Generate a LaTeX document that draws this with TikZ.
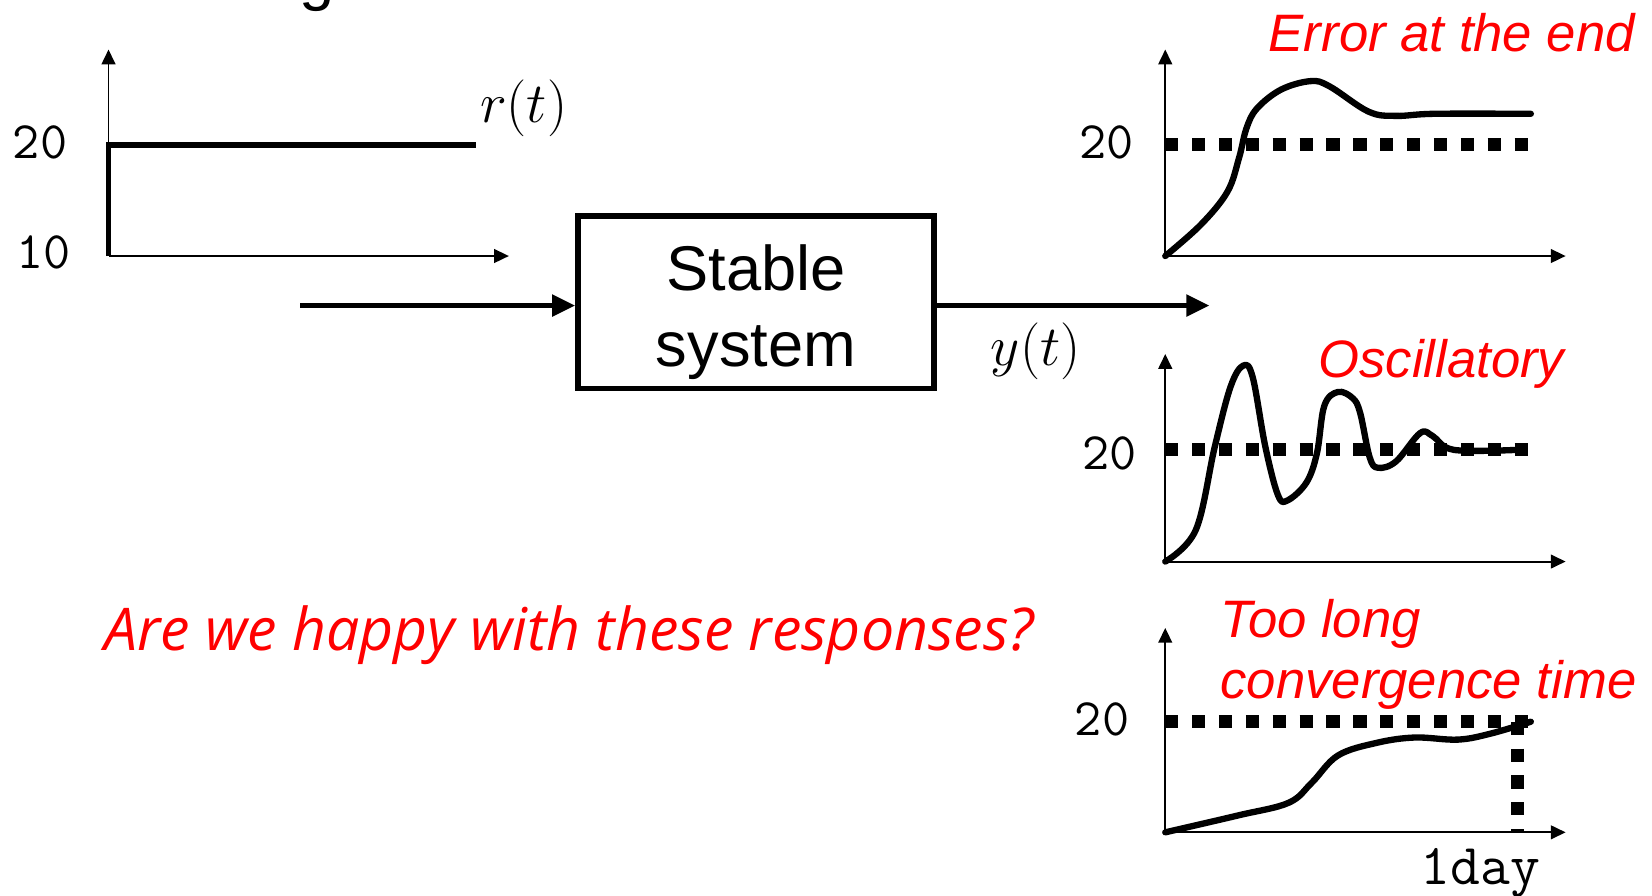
\RequirePackage{fix-cm}
\documentclass[tikz,border=0pt]{standalone}
\usepackage{fontspec}
\newfontfamily\arialfont{Liberation Sans}
\newfontfamily\osansfont{Open Sans}
\usetikzlibrary{arrows.meta}

\tikzset{
  axis/.style={-{Triangle[length=14pt,width=13pt]}, line width=1.8pt},
  bigarrow/.style={-{Triangle[length=22pt,width=20pt]}, line width=5pt},
  resp/.style={line width=6pt, line cap=round, line join=round},
  refline/.style={line width=12.5pt, dash pattern=on 12.5pt off 13pt},
  redlabel/.style={text=red, font=\arialfont\itshape\fontsize{50}{58}\selectfont},
  ticklabel/.style={font=\ttfamily\fontsize{50}{50}\selectfont},
  mathlabel/.style={font=\fontsize{54}{54}\selectfont},
}

\begin{document}
\begin{tikzpicture}[x=1pt, y=-1pt]
  \useasboundingbox (0,0) rectangle (1568,850);
  % cut title
  \node[anchor=base, font=\arialfont\fontsize{60}{60}\selectfont] (title) at (301,-1) {g};
  % input r(t)
  \draw[axis] (103,243) -- (483,243);
  \draw[axis] (103,243) -- (103,47);
  \draw[line width=5.5pt] (103,243) -- (103,138) -- (452,138);
  \node[ticklabel] (r20) at (38,135) {20};
  \node[ticklabel] (r10) at (41,240) {10};
  \node[mathlabel] (rlab) at (497,103) {$r(t)$};
  % system
  \node[draw, line width=5pt, minimum width=338, minimum height=164, align=center,
        font=\arialfont\fontsize{60}{72}\selectfont] (sys) at (717.5,287)
        {\rule{0pt}{62pt}Stable\\system};
  \coordinate (in) at (285,290);
  \coordinate (out) at (1148,290);
  \draw[bigarrow] (in) -- (in -| sys.west);
  \draw[bigarrow] (out -| sys.east) -- (out);
  \node[mathlabel] (ylab) at (983,333) {$y(t)$};
  % response 1
  \draw[axis] (1106,243) -- (1486,243);
  \draw[axis] (1106,243) -- (1106,47);
  \draw[refline] (1106,137) -- (1450,137);
  \draw[resp] plot[smooth, tension=0.6] coordinates {(1106,243) (1140,213) (1165,182)
    (1176,150) (1183,122) (1193,103) (1216,85) (1244,77) (1262,82) (1299,106) (1325,110)
    (1362,108) (1453,108)};
  \node[ticklabel] (a20) at (1050,135) {20};
  \node[redlabel] (err) at (1378,31) {Error at the end};
  % response 2
  \draw[axis] (1106,533) -- (1486,533);
  \draw[axis] (1106,533) -- (1106,336);
  \draw[refline] (1106,427) -- (1450,427);
  \draw[resp] plot[smooth, tension=0.6] coordinates {(1106,533) (1135,503) (1153,424)
    (1168,367) (1180,347) (1189,358) (1201,424) (1213,470) (1222,475) (1240,458)
    (1250,430) (1257,385) (1270,372) (1284,378) (1291,392) (1300,434) (1308,444)
    (1325,438) (1348,411) (1360,414) (1380,427) (1440,427)};
  \node[ticklabel] (b20) at (1053,430) {20};
  \node[redlabel] (osc) at (1368,345) {Oscillatory};
  % response 3
  \draw[axis] (1106,790) -- (1486,790);
  \draw[axis] (1106,790) -- (1106,596);
  \draw[refline] (1106,685) -- (1450,685);
  \draw[refline] (1440,685) -- (1440,790);
  \draw[resp] plot[smooth, tension=0.6] coordinates {(1106,790) (1175,774) (1223,762)
    (1245,743) (1270,717) (1307,705) (1343,700) (1384,702) (1416,696) (1453,685)};
  \node[ticklabel] (c20) at (1046,683) {20};
  \node[ticklabel, font=\ttfamily\fontsize{55}{55}\selectfont] (day) at (1405,829) {1day};
  \node[redlabel, anchor=west, align=left] (slow) at (1155,621) {Too long\\convergence time};
  % question
  \node[text=red, font=\osansfont\itshape\fontsize{56}{64}\selectfont] (ask) at (540,603)
    {Are we happy with these responses?};
\end{tikzpicture}
\end{document}
